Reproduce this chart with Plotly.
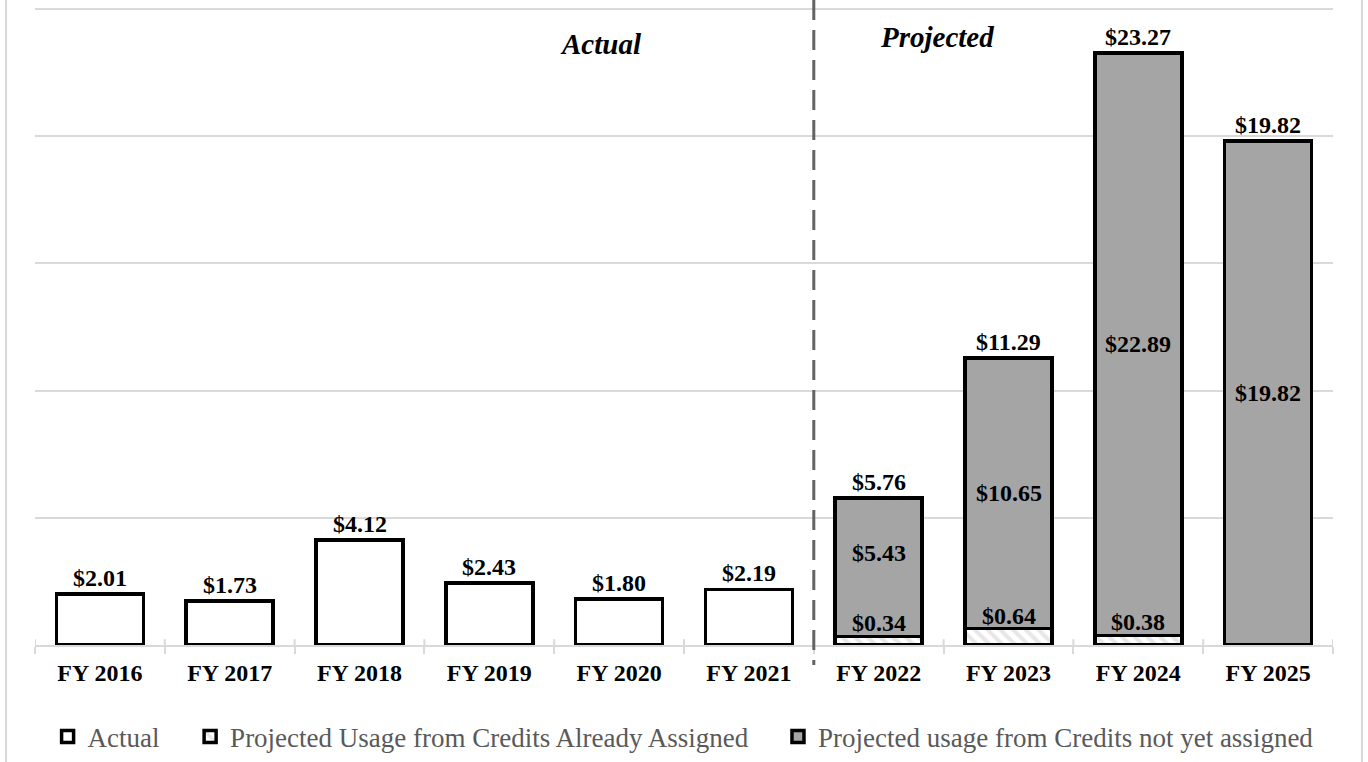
import plotly.graph_objects as go

# ---- data ----
categories = ["FY 2016", "FY 2017", "FY 2018", "FY 2019", "FY 2020", "FY 2021",
              "FY 2022", "FY 2023", "FY 2024", "FY 2025"]
actual_years = ["FY 2016", "FY 2017", "FY 2018", "FY 2019", "FY 2020", "FY 2021"]
actual_values = [2.01, 1.73, 4.12, 2.43, 1.80, 2.19]
proj_years = ["FY 2022", "FY 2023", "FY 2024", "FY 2025"]
assigned_values = [0.34, 0.64, 0.38, None]
not_assigned_values = [5.43, 10.65, 22.89, 19.82]
proj_totals = [5.76, 11.29, 23.27, 19.82]

FONT = "Times New Roman, Liberation Serif, serif"
GRID = "#d9d9d9"

fig = go.Figure()
fig.add_trace(go.Bar(
    name="Actual", x=actual_years, y=actual_values,
    marker=dict(color="white", line=dict(color="black", width=3.5)),
    width=0.67, legend="legend", showlegend=True,
))
fig.add_trace(go.Bar(
    name="Projected Usage from Credits Already Assigned", x=proj_years, y=assigned_values,
    marker=dict(color="white", line=dict(color="black", width=3.5),
                pattern=dict(shape="\\", fgcolor="#d0d0d0", bgcolor="white", size=9, solidity=0.45)),
    width=0.67, legend="legend2", showlegend=True,
))
fig.add_trace(go.Bar(
    name="Projected usage from Credits not yet assigned", x=proj_years, y=not_assigned_values,
    marker=dict(color="#a5a5a5", line=dict(color="black", width=3.5)),
    width=0.67, legend="legend3", showlegend=True,
))

annotations = []
lab_font = dict(family=FONT, size=24, color="black", weight="bold")
# totals above bars
for x, v in zip(actual_years, actual_values):
    annotations.append(dict(x=x, y=v, text=f"${v:.2f}", showarrow=False,
                            yanchor="bottom", yshift=1, font=lab_font))
for x, v in zip(proj_years, proj_totals):
    annotations.append(dict(x=x, y=v, text=f"${v:.2f}", showarrow=False,
                            yanchor="bottom", yshift=1, font=lab_font))
# assigned labels (just above the small segment)
for x, v in zip(proj_years, assigned_values):
    if v is not None:
        annotations.append(dict(x=x, y=v, text=f"${v:.2f}", showarrow=False,
                                yanchor="bottom", yshift=-2, font=lab_font))
# not-yet-assigned labels (centred in segment)
for i, (x, v) in enumerate(zip(proj_years, not_assigned_values)):
    base = assigned_values[i] or 0
    shift = 14 if x == "FY 2022" else 0
    annotations.append(dict(x=x, y=base + v / 2, text=f"${v:.2f}", showarrow=False,
                            yanchor="middle", yshift=shift, font=lab_font))
# section titles
title_font = dict(family=FONT, size=29, color="black", weight="bold", style="italic")
annotations.append(dict(x=0.436, y=0.9435, xref="paper", yref="paper", text="Actual",
                        showarrow=False, xanchor="center", yanchor="middle", font=title_font))
annotations.append(dict(x=0.695, y=0.9545, xref="paper", yref="paper", text="Projected",
                        showarrow=False, xanchor="center", yanchor="middle", font=title_font))

shapes = [
    # outer chart border (only left/right edges visible)
    dict(type="rect", xref="paper", yref="paper", x0=-0.0223, x1=1.0223, y0=-0.3, y1=1.2,
         line=dict(color=GRID, width=2), fillcolor="rgba(0,0,0,0)", layer="below"),
    # divider between actual and projected
    dict(type="line", xref="x", yref="paper", x0=5.5, x1=5.5, y0=1.0126, y1=-0.0314,
         line=dict(color="#636363", width=3, dash="20px,10px")),
]
# tick marks crossing the category axis at the boundaries
for i in range(len(categories) + 1):
    shapes.append(dict(type="line", xref="x", yref="paper", x0=i - 0.5, x1=i - 0.5,
                       y0=0, y1=0.009, line=dict(color=GRID, width=2), layer="below"))

leg_common = dict(orientation="h", yanchor="middle", y=-0.1444, xanchor="left",
                  font=dict(family=FONT, size=27, color="#595959"),
                  bgcolor="rgba(0,0,0,0)", itemwidth=30, traceorder="normal")

fig.update_layout(
    width=1368, height=762,
    margin=dict(l=35, r=35, t=8, b=117, autoexpand=False),
    paper_bgcolor="white", plot_bgcolor="white",
    barmode="stack", bargap=0.33, showlegend=True,
    font=dict(family=FONT),
    xaxis=dict(type="category", categoryorder="array", categoryarray=categories,
               range=[-0.5, 9.5], showline=True, linecolor=GRID, linewidth=2,
               ticks="outside", tickson="boundaries", ticklen=7, tickwidth=2, tickcolor=GRID,
               tickfont=dict(family=FONT, size=24, color="black", weight="bold"),
               ticklabelstandoff=5, showgrid=False, zeroline=False),
    yaxis=dict(range=[0, 25.04], tick0=0, dtick=5, showgrid=True, gridcolor=GRID, gridwidth=2,
               showticklabels=False, zeroline=False, showline=False, ticks=""),
    legend=dict(x=0.0097, **leg_common),
    legend2=dict(x=0.1195, **leg_common),
    legend3=dict(x=0.5724, **leg_common),
    annotations=annotations,
    shapes=shapes,
)

fig.write_html("out.html")
